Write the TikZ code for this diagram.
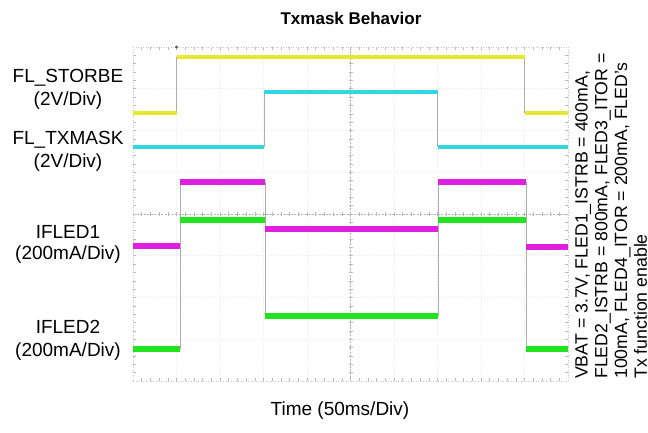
\documentclass[tikz,border=0pt]{standalone}
\usepackage{fontspec}
\setmainfont{Liberation Sans}
\begin{document}
\begin{tikzpicture}[x=1pt,y=-1pt,
  lbl/.style={font=\fontsize{19}{21}\selectfont, inner sep=0pt},
  gridline/.style={draw=gray!18, line width=0.6pt, dash pattern=on 1pt off 2pt},
  edgeline/.style={draw=gray!45, line width=0.6pt, dash pattern=on 1pt off 1.5pt},
  axisline/.style={draw=gray!60, line width=0.7pt, dash pattern=on 2pt off 1.5pt},
  tick/.style={draw=gray!55, line width=0.6pt},
  edge/.style={draw=gray!65, line width=0.8pt},
  trace/.style={line width=#1, line cap=butt, line join=miter}]
\definecolor{scopeyellow}{RGB}{232,232,48}
\definecolor{scopecyan}{RGB}{48,214,224}
\definecolor{scopemagenta}{RGB}{224,32,224}
\definecolor{scopegreen}{RGB}{32,228,32}

\useasboundingbox[fill=white] (0,0) rectangle (648,432);

% graticule: 10 x 8 divisions
\foreach \i in {1,...,9}
  \draw[gridline] ({133+\i*43.5},47) -- ({133+\i*43.5},381);
\foreach \j in {1,...,7}
  \draw[gridline] (133,{47+\j*41.75}) -- (568,{47+\j*41.75});
\draw[edgeline] (133,47) -- (568,47);
\draw[edgeline] (133,381) -- (568,381);
\draw[edgeline] (133,47) -- (133,381);
\draw[edgeline] (568,47) -- (568,381);
\draw[axisline] (350.5,47) -- (350.5,381);
\draw[axisline] (133,214) -- (568,214);
% minor ticks
\foreach \k in {1,...,49} {
  \draw[tick] ({133+\k*8.7},47) -- ({133+\k*8.7},50);
  \draw[tick] ({133+\k*8.7},212) -- ({133+\k*8.7},216);
  \draw[tick] ({133+\k*8.7},378) -- ({133+\k*8.7},381);
}
\foreach \k in {1,...,39} {
  \draw[tick] (133,{47+\k*8.35}) -- (136,{47+\k*8.35});
  \draw[tick] (348.5,{47+\k*8.35}) -- (352.5,{47+\k*8.35});
  \draw[tick] (565,{47+\k*8.35}) -- (568,{47+\k*8.35});
}
% trigger marker
\fill[gray!70!black] (176.5,47) circle (1.6pt);

% signal edges
\draw[edge] (176.5,113) -- (176.5,57);
\draw[edge] (524.5,57) -- (524.5,113);
\draw[edge] (264,147) -- (264,92);
\draw[edge] (437.5,92) -- (437.5,147);
\draw[edge] (180,349) -- (180,182);
\draw[edge] (265,182) -- (265,316);
\draw[edge] (438,316) -- (438,182);
\draw[edge] (526,182) -- (526,349);

% traces
\draw[trace=4pt, scopeyellow] (133,113) -- (176.5,113);
\draw[trace=4pt, scopeyellow] (176.5,57) -- (524.5,57);
\draw[trace=4pt, scopeyellow] (524.5,113) -- (568,113);

\draw[trace=4pt, scopecyan] (133,147) -- (264,147);
\draw[trace=4pt, scopecyan] (264,92) -- (437.5,92);
\draw[trace=4pt, scopecyan] (437.5,147) -- (568,147);

\draw[trace=5.5pt, scopemagenta] (133,246) -- (180,246);
\draw[trace=5.5pt, scopemagenta] (180,182) -- (265,182);
\draw[trace=5.5pt, scopemagenta] (265,229) -- (438,229);
\draw[trace=5.5pt, scopemagenta] (438,182) -- (526,182);
\draw[trace=5.5pt, scopemagenta] (526,247) -- (568,247);

\draw[trace=6pt, scopegreen] (133,349) -- (180,349);
\draw[trace=6pt, scopegreen] (180,220) -- (265,220);
\draw[trace=6pt, scopegreen] (265,316) -- (438,316);
\draw[trace=6pt, scopegreen] (438,220) -- (526,220);
\draw[trace=6pt, scopegreen] (526,349) -- (568,349);

% title and labels
\node[font=\bfseries\fontsize{17}{20}\selectfont, inner sep=0pt] (title) at (351,18) {Txmask Behavior};

\node[lbl] (strobe) at (68,78) {FL\_STORBE};
\node[lbl] (strobediv) at (68,101) {(2V/Div)};
\node[lbl] (txmask) at (68,140) {FL\_TXMASK};
\node[lbl] (txmaskdiv) at (68,163) {(2V/Div)};
\node[lbl] (led1) at (68,232) {IFLED1};
\node[lbl] (led1div) at (68,255) {(200mA/Div)};
\node[lbl] (led2) at (68,327) {IFLED2};
\node[lbl] (led2div) at (68,352) {(200mA/Div)};

\node[lbl] (time) at (340,411) {Time (50ms/Div)};

\node[rotate=90, anchor=north west, inner sep=0pt, align=left,
      font=\fontsize{17.7}{19.8}\selectfont] (cond) at (575,379)
  {VBAT = 3.7V, FLED1\_ISTRB = 400mA,\\
   FLED2\_ISTRB = 800mA, FLED3\_ITOR =\\
   100mA, FLED4\_ITOR = 200mA, FLED's\\
   Tx function enable};
\end{tikzpicture}
\end{document}
